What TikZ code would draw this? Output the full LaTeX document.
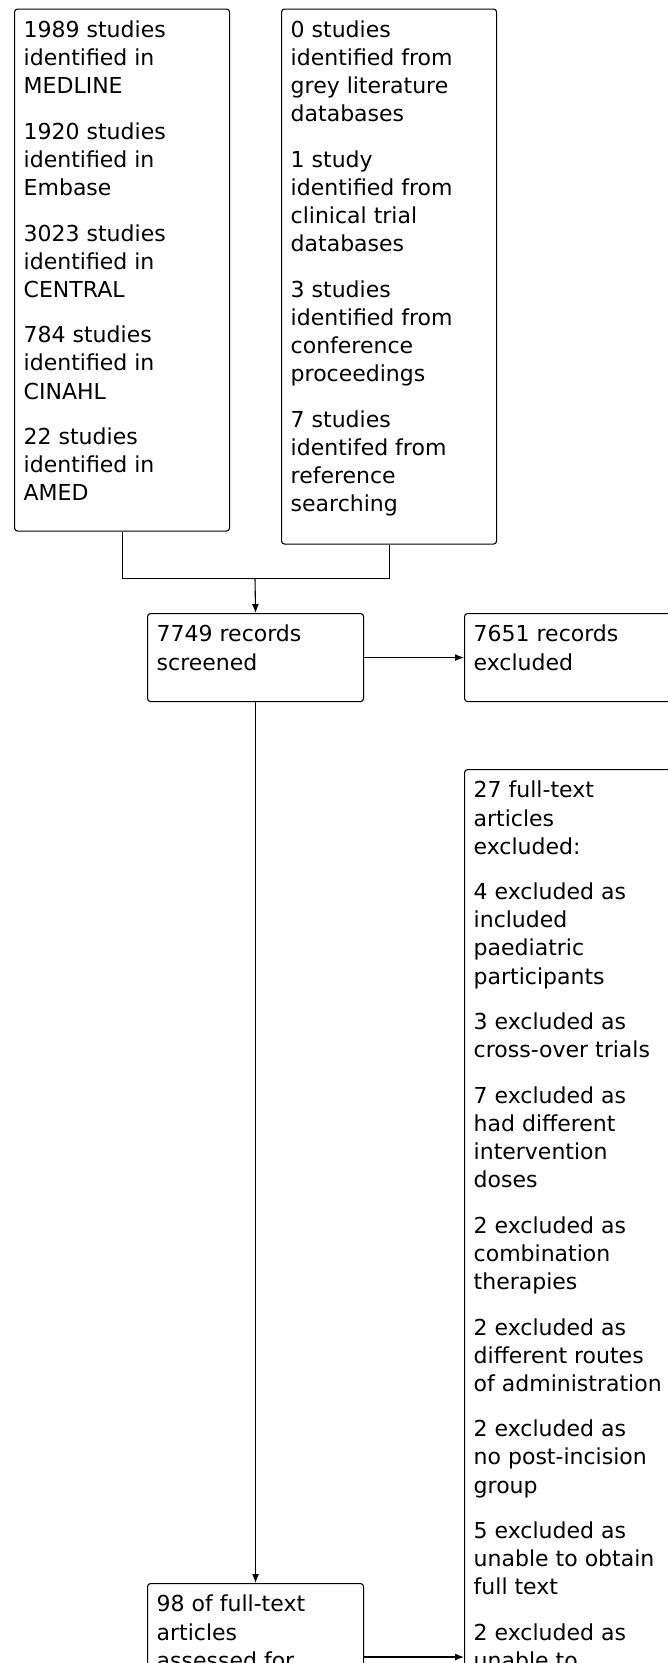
\documentclass[tikz,border=0pt]{standalone}
\usepackage{fontspec}
\setmainfont{DejaVu Sans}
\usetikzlibrary{arrows.meta}
\tikzset{
  box/.style={draw, line width=1.1pt, rounded corners=3pt, anchor=north west, inner sep=0pt},
  txt/.style={anchor=north west, inner sep=0pt, align=left, font=\fontsize{22}{28.1}\selectfont},
  conn/.style={draw, line width=1.1pt},
  arr/.style={conn, -{Latex[length=9pt,width=7pt]}},
}
\newcommand{\pgap}{\\[17.5pt]}
\begin{document}
\begin{tikzpicture}[x=1pt,y=-1pt]
\clip (0,0) rectangle (668,1663);
\fill[white] (0,0) rectangle (668,1663);
% boxes
\node[box, minimum width=215pt, minimum height=522pt] (medline) at (14,8.5) {};
\node[box, minimum width=215pt, minimum height=535pt] (grey) at (281,8.5) {};
\node[box, minimum width=216pt, minimum height=88pt] (screened) at (147,613) {};
\node[box, minimum width=216pt, minimum height=88pt] (excl1) at (464,613) {};
\node[box, minimum width=216pt, minimum height=1000pt] (excl2) at (464,769) {};
\node[box, minimum width=216pt, minimum height=200pt] (full) at (147,1583) {};
% texts
\node[txt] (tmed) at (23.5,20.5) {1989 studies\\identified in\\MEDLINE\pgap
1920 studies\\identified in\\Embase\pgap
3023 studies\\identified in\\CENTRAL\pgap
784 studies\\identified in\\CINAHL\pgap
22 studies\\identified in\\AMED};
\node[txt] (tgrey) at (290.5,20.5) {0 studies\\identified from\\grey literature\\databases\pgap
1 study\\identified from\\clinical trial\\databases\pgap
3 studies\\identified from\\conference\\proceedings\pgap
7 studies\\identifed from\\reference\\searching};
\node[txt] (tscr) at (156.5,625) {7749 records\\screened};
\node[txt] (texc1) at (473.5,625) {7651 records\\excluded};
\node[txt] (texc2) at (473.5,781) {27 full-text\\articles\\excluded:\pgap
4 excluded as\\included\\paediatric\\participants\pgap
3 excluded as\\cross-over trials\pgap
7 excluded as\\had different\\intervention\\doses\pgap
2 excluded as\\combination\\therapies\pgap
2 excluded as\\different routes\\of administration\pgap
2 excluded as\\no post-incision\\group\pgap
5 excluded as\\unable to obtain\\full text\pgap
2 excluded as\\unable to};
\node[txt] (tfull) at (156.5,1595) {98 of full-text\\articles\\assessed for};
% connectors
\coordinate (jn) at (255,578.5);
\draw[conn] (medline.south) |- (jn) -| (grey.south);
\draw[arr] (jn) -- (screened.north);
\draw[arr] (screened.east) -- (excl1.west);
\draw[arr] (screened.south) -- (full.north);
\path (full.north east) ++(0,74) coordinate (fa);
\draw[arr] (fa) -- (fa -| excl2.west);
\end{tikzpicture}
\end{document}
